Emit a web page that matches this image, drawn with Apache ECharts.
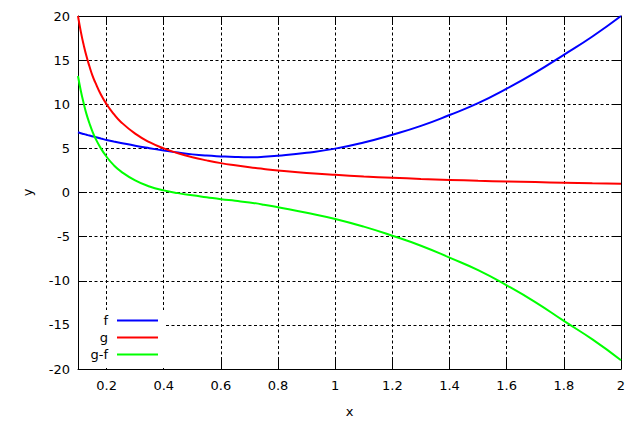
<!DOCTYPE html>
<html>
<head>
<meta charset="utf-8">
<script src="https://cdn.jsdelivr.net/npm/echarts@6/dist/echarts.min.js"></script>
<style>
html,body{margin:0;padding:0;background:#fff;}
#chart{width:640px;height:423px;}
</style>
</head>
<body>
<div id="chart"></div>
<script>
// x positions
const xValues = [0.1, 0.11, 0.12, 0.13, 0.14, 0.15, 0.16, 0.18, 0.2, 0.225, 0.25, 0.3, 0.35, 0.4, 0.45, 0.5, 0.55, 0.6, 0.65, 0.7, 0.75, 0.8, 0.9, 1.0, 1.1, 1.2, 1.3, 1.4, 1.5, 1.6, 1.7, 1.8, 1.9, 2.0];
// series values
const fValues = [6.82, 6.72, 6.63, 6.54, 6.45, 6.37, 6.29, 6.12, 5.95, 5.78, 5.62, 5.3, 5.02, 4.76, 4.52, 4.32, 4.18, 4.09, 4.02, 3.99, 4.04, 4.16, 4.5, 4.97, 5.67, 6.55, 7.55, 8.78, 10.12, 11.77, 13.58, 15.6, 17.68, 20.0];
const gValues = [20.0, 18.2, 16.7, 15.4, 14.3, 13.3, 12.5, 11.1, 10.0, 8.9, 8.0, 6.67, 5.7, 5.0, 4.45, 4.0, 3.64, 3.33, 3.08, 2.86, 2.67, 2.5, 2.22, 2.0, 1.82, 1.67, 1.54, 1.43, 1.33, 1.25, 1.18, 1.11, 1.05, 1.0];
const gfValues = [13.2, 11.5, 10.1, 8.85, 7.85, 6.95, 6.2, 5.0, 4.05, 3.1, 2.4, 1.37, 0.68, 0.24, -0.07, -0.32, -0.54, -0.76, -0.94, -1.13, -1.38, -1.68, -2.3, -3.0, -3.87, -4.9, -6.03, -7.38, -8.8, -10.52, -12.42, -14.55, -16.65, -19.0];
const seriesNames = ['f', 'g', 'g-f'];
const seriesColors = ['#0000ff', '#ff0000', '#00ff00'];
const xTitle = 'x';
const yTitle = 'y';

const allValues = [fValues, gValues, gfValues];
const FONT = 'DejaVu Sans';

const chart = echarts.init(document.getElementById('chart'), null, {renderer: 'svg'});

const gridLine = {show: true, lineStyle: {color: '#000', width: 1, type: [3, 2.5]}};
const axisLineStyle = {show: true, onZero: false, lineStyle: {color: '#000', width: 1}};
const tickStyle = {show: true, inside: true, length: 9, lineStyle: {color: '#000', width: 1}};

const series = seriesNames.map((name, i) => ({
  name: name,
  type: 'line',
  data: xValues.map((x, k) => [x, allValues[i][k]]),
  showSymbol: false,
  symbol: 'none',
  smooth: 0.5,
  lineStyle: {color: seriesColors[i], width: 2},
  itemStyle: {color: seriesColors[i]},
  z: 3
}));

const legends = seriesNames.map((name, i) => ({
  data: [{name: name, icon: 'rect'}],
  orient: 'horizontal',
  align: 'right',
  right: 482,
  top: 314 + i * 17,
  padding: 0,
  itemWidth: 41,
  itemHeight: 2,
  selectedMode: false,
  textStyle: {fontFamily: FONT, fontSize: 13, color: '#000', padding: [0, 4, 0, 0]}
}));

chart.setOption({
  backgroundColor: '#fff',
  animation: false,
  grid: {left: 78, right: 19, top: 16, bottom: 54, containLabel: false},
  legend: legends,
  graphic: [{
    type: 'rect',
    shape: {x: 79, y: 310, width: 85, height: 58},
    style: {fill: '#fff'},
    z: 1
  }],
  xAxis: [{
    type: 'value',
    min: 0.1,
    max: 2,
    splitNumber: 10,
    name: xTitle,
    nameLocation: 'middle',
    nameGap: 36,
    nameTextStyle: {fontFamily: FONT, fontSize: 13, color: '#000'},
    axisLine: axisLineStyle,
    axisTick: tickStyle,
    splitLine: gridLine,
    axisLabel: {fontFamily: FONT, fontSize: 13, color: '#000', margin: 10, showMinLabel: false,
      formatter: v => String(Math.round(v * 10) / 10)}
  }, {
    type: 'value',
    position: 'top',
    min: 0.1,
    max: 2,
    splitNumber: 10,
    axisLine: axisLineStyle,
    axisTick: tickStyle,
    splitLine: {show: false},
    axisLabel: {show: false}
  }],
  yAxis: [{
    type: 'value',
    min: -20,
    max: 20,
    interval: 5,
    name: yTitle,
    nameLocation: 'middle',
    nameGap: 44,
    nameTextStyle: {fontFamily: FONT, fontSize: 13, color: '#000'},
    axisLine: axisLineStyle,
    axisTick: tickStyle,
    splitLine: gridLine,
    axisLabel: {fontFamily: FONT, fontSize: 13, color: '#000', margin: 8}
  }, {
    type: 'value',
    position: 'right',
    min: -20,
    max: 20,
    interval: 5,
    axisLine: axisLineStyle,
    axisTick: tickStyle,
    splitLine: {show: false},
    axisLabel: {show: false}
  }],
  series: series
});
</script>
</body>
</html>
